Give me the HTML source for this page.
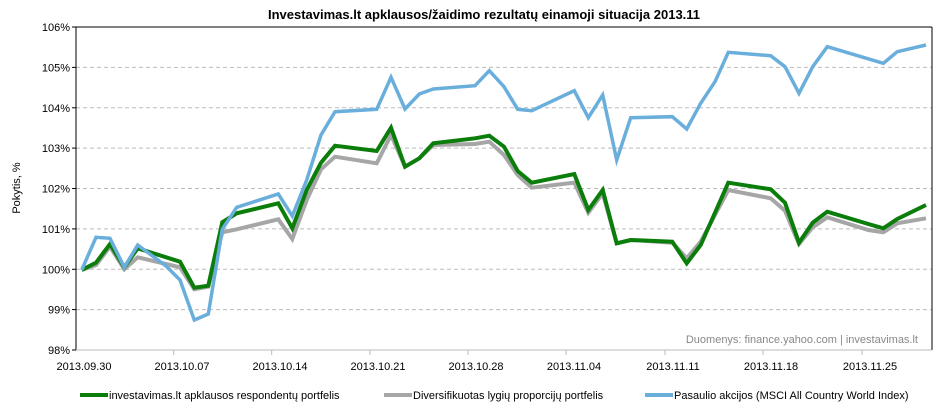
<!DOCTYPE html>
<html><head><meta charset="utf-8"><style>
body{margin:0;background:#fff;}
svg text{font-family:"Liberation Sans",sans-serif;}
</style></head><body>
<svg width="938" height="410" xmlns="http://www.w3.org/2000/svg">
<rect width="938" height="410" fill="#fff"/>
<text x="484" y="19" text-anchor="middle" font-size="13" font-weight="bold" fill="#000">Investavimas.lt apklausos/žaidimo rezultatų einamoji situacija 2013.11</text>
<g stroke="#bbb" stroke-dasharray="4,3" stroke-width="1">
<line x1="76" x2="932" y1="67.4" y2="67.4"/><line x1="76" x2="932" y1="107.8" y2="107.8"/>
<line x1="76" x2="932" y1="148.1" y2="148.1"/><line x1="76" x2="932" y1="188.5" y2="188.5"/>
<line x1="76" x2="932" y1="228.9" y2="228.9"/><line x1="76" x2="932" y1="269.3" y2="269.3"/>
<line x1="76" x2="932" y1="309.6" y2="309.6"/>
</g>
<line x1="76" x2="932" y1="27" y2="27" stroke="#000"/>
<line x1="932" x2="932" y1="27" y2="350" stroke="#000"/>
<line x1="76" x2="76" y1="27" y2="350" stroke="#000"/>
<line x1="76" x2="932" y1="350" y2="350" stroke="#bbb"/>
<g stroke="#bbb"><line x1="173.7" x2="173.7" y1="350" y2="355"/><line x1="271.7" x2="271.7" y1="350" y2="355"/><line x1="370" x2="370" y1="350" y2="355"/><line x1="468" x2="468" y1="350" y2="355"/><line x1="566" x2="566" y1="350" y2="355"/><line x1="665" x2="665" y1="350" y2="355"/><line x1="763" x2="763" y1="350" y2="355"/><line x1="862" x2="862" y1="350" y2="355"/></g>
<g stroke="#000"><line x1="72" x2="76" y1="27" y2="27"/><line x1="72" x2="76" y1="67.4" y2="67.4"/><line x1="72" x2="76" y1="107.8" y2="107.8"/><line x1="72" x2="76" y1="148.1" y2="148.1"/><line x1="72" x2="76" y1="188.5" y2="188.5"/><line x1="72" x2="76" y1="228.9" y2="228.9"/><line x1="72" x2="76" y1="269.3" y2="269.3"/><line x1="72" x2="76" y1="309.6" y2="309.6"/><line x1="72" x2="76" y1="350" y2="350"/></g>
<g font-size="11" fill="#000" text-anchor="end">
<text x="70" y="31">106%</text><text x="70" y="71.4">105%</text><text x="70" y="111.8">104%</text><text x="70" y="152.1">103%</text><text x="70" y="192.5">102%</text><text x="70" y="232.9">101%</text><text x="70" y="273.3">100%</text><text x="70" y="313.6">99%</text><text x="70" y="354">98%</text>
</g>
<g font-size="11" fill="#000" text-anchor="middle">
<text x="84" y="370">2013.09.30</text><text x="182" y="370">2013.10.07</text><text x="280" y="370">2013.10.14</text><text x="378" y="370">2013.10.21</text><text x="476" y="370">2013.10.28</text><text x="574" y="370">2013.11.04</text><text x="673" y="370">2013.11.11</text><text x="771" y="370">2013.11.18</text><text x="870" y="370">2013.11.25</text>
</g>
<text transform="translate(20,188) rotate(-90)" text-anchor="middle" font-size="11" fill="#000">Pokytis, %</text>
<text x="918" y="343" text-anchor="end" font-size="11" fill="#888">Duomenys: finance.yahoo.com  |  investavimas.lt</text>
<g fill="none" stroke-width="4" stroke-linejoin="miter">
<polyline stroke="#a6a6a6" points="81.7,270 96,265 110,246.7 124.3,269.3 137.7,257.3 180,267.3 194.3,289.3 208.3,286.7 222.3,232.3 236.7,229.3 278.3,219.3 292.3,239 306.7,200 321,169.3 335,156.7 376.7,163.3 391,135 405,166.7 419.3,158.3 433.3,145 475,144 489.3,141.7 504,155 517.7,175 531.7,187.7 574.3,182.7 588.3,212.7 602.7,193.3 616.7,243.3 630.7,240 672.3,242.7 686.7,258.3 700.7,241.7 728.3,190 770.7,198.3 785,210.7 799,244 812.7,227.3 827.3,217.3 868.3,230 883.3,232.3 897.3,223.3 926,218.3"/>
<polyline stroke="#0a7d0a" points="81.7,270 96,262.7 110,244 124.3,267.3 137.7,248.3 180,261.7 194.3,287.7 208.3,285.7 222.3,222.3 236.7,213.3 278.3,203.3 292.3,228.3 306.7,190 321,162.7 335,145.7 376.7,151 391,127.7 405,166.7 419.3,158.3 433.3,143.3 475,138.3 489.3,135.7 504,146.7 517.7,171 531.7,182.7 574.3,174 588.3,210 602.7,190 616.7,243.3 630.7,240 672.3,241.7 686.7,263.3 700.7,245 728.3,182.7 770.7,189.3 785,202.7 799,242.7 812.7,222.7 827.3,211.7 868.3,224 883.3,228.3 897.3,219 926,205"/>
<polyline stroke="#6aaedc" stroke-width="3.5" points="81.7,270 96,237.3 110,238.3 124.3,267.3 137.7,245 166,266 180,280 194.3,320 208.3,314 222.3,229.3 236.7,207.3 278.3,194 292.3,216 306.7,180 321,135 335,111.7 376.7,109.3 391,77.3 405,109 419.3,94 433.3,89 475,85.7 489.3,70.7 504,86.7 517.7,109.3 531.7,110.7 574.3,90.7 588.3,117.7 602.7,95 616.7,160 630.7,117.7 672.3,116.7 686.7,129 700.7,103.3 715,81.7 728.3,52.3 770.7,55.7 785,66.7 799,93.3 812.7,66.7 827.3,46.7 883.3,63.3 897.3,51.7 926,45"/>
</g>
<g font-size="11" fill="#000">
<line x1="80" x2="108" y1="395" y2="395" stroke="#0a7d0a" stroke-width="4"/>
<text x="109" y="399">investavimas.lt apklausos respondentų portfelis</text>
<line x1="384" x2="412" y1="395" y2="395" stroke="#a6a6a6" stroke-width="4"/>
<text x="413" y="399">Diversifikuotas lygių proporcijų portfelis</text>
<line x1="645" x2="673" y1="395" y2="395" stroke="#6aaedc" stroke-width="4"/>
<text x="674" y="399">Pasaulio akcijos (MSCI All Country World Index)</text>
</g>
</svg>
</body></html>
